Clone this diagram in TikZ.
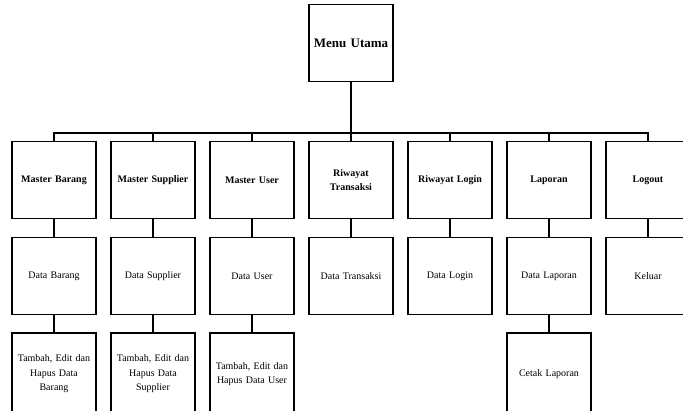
\documentclass[tikz,border=0pt]{standalone}
\usepackage{fontspec}
\setmainfont{Liberation Serif}
\usetikzlibrary{calc}

\begin{document}
\begin{tikzpicture}[x=1pt,y=-1pt]

                \tikzstyle{kotak}  = [draw, line width=1.1pt, minimum width=84pt, minimum height=77pt, inner sep=2pt, text width=80pt, align=center, font=\fontsize{10}{14.5}\selectfont]
                \tikzstyle{judul}  = [kotak, font=\fontsize{10}{14.5}\selectfont\bfseries]
                \tikzstyle{garis}  = [line width=1.1pt]

                \useasboundingbox (0,0) rectangle (683,410);

                \node [kotak, font=\fontsize{13}{15}\selectfont\bfseries](menu) at (351,43) {Menu Utama};
                \coordinate (bus) at (351,133);
                \draw [garis] (menu.south) -- (bus);

                % menu dan sub menu
                \foreach \m/\mt/\s/\st [count=\i from 0] in {
                        mb/{Master Barang}/db/{Data Barang},
                        ms/{Master Supplier}/ds/{Data Supplier},
                        mu/{Master User}/du/{Data User},
                        rt/{Riwayat\\Transaksi}/dt/{Data Transaksi},
                        rl/{Riwayat Login}/dl/{Data Login},
                        lp/{Laporan}/dlp/{Data Laporan},
                        lo/{Logout}/kl/{Keluar}}
                {
                        \node [judul](\m) at (54+99*\i,180) {\mt};
                        \draw [garis] (bus) -| (\m.north);

                        \node [kotak](\s) at (54+99*\i,276) {\st};
                        \draw [garis] (\m.south) -- (\s.north);
                }

                % proses
                \foreach \s/\p/\pt in {
                        db/tb/{Tambah, Edit dan\\Hapus Data\\Barang},
                        ds/ts/{Tambah, Edit dan\\Hapus Data\\Supplier},
                        du/tu/{Tambah, Edit dan\\Hapus Data User},
                        dlp/cl/{Cetak Laporan}}
                {
                        \node [kotak, minimum height=82pt](\p) at ($(\s)+(0,98)$) {\pt};
                        \draw [garis] (\s.south) -- (\p.north);
                }
        \end{tikzpicture}
\end{document}
